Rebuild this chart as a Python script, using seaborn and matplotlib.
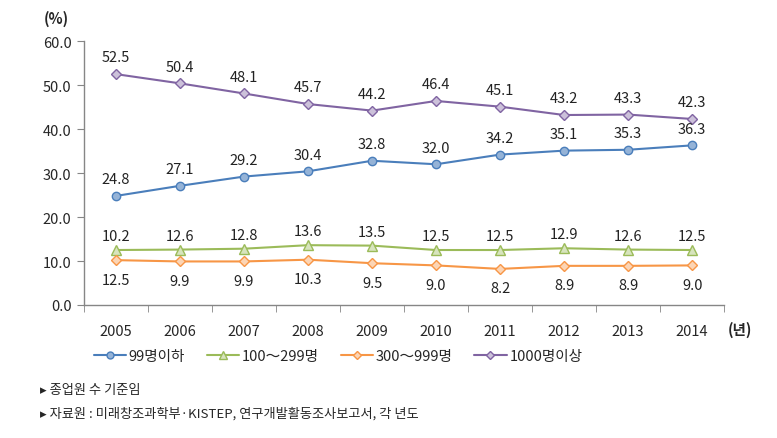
import numpy as np
import pandas as pd
import seaborn as sns
import matplotlib.pyplot as plt
from matplotlib.lines import Line2D

years = ['2005', '2006', '2007', '2008', '2009', '2010', '2011', '2012', '2013', '2014']
s_99 = [24.8, 27.1, 29.2, 30.4, 32.8, 32.0, 34.2, 35.1, 35.3, 36.3]
s_100 = [12.5, 12.6, 12.8, 13.6, 13.5, 12.5, 12.5, 12.9, 12.6, 12.5]
s_300 = [10.2, 9.9, 9.9, 10.3, 9.5, 9.0, 8.2, 8.9, 8.9, 9.0]
s_1000 = [52.5, 50.4, 48.1, 45.7, 44.2, 46.4, 45.1, 43.2, 43.3, 42.3]
# label texts as printed in the source (2005 labels of the two lower series are swapped there)
lab_100 = ['10.2', '12.6', '12.8', '13.6', '13.5', '12.5', '12.5', '12.9', '12.6', '12.5']
lab_300 = ['12.5', '9.9', '9.9', '10.3', '9.5', '9.0', '8.2', '8.9', '8.9', '9.0']
names = ['99명이하', '100～299명', '300～999명', '1000명이상']

sns.set_style('white')
plt.rcParams['font.family'] = ['Noto Sans CJK KR', 'DejaVu Sans']

fig = plt.figure(figsize=(7.77, 4.39), dpi=100)
ax = fig.add_axes([0.108, 0.303, 0.824, 0.601])

x = np.arange(len(years))
series = [
    (s_99, [f'{v:.1f}' for v in s_99], '#4A7EBB', '#95B3D7', 'o', 6, 12),
    (s_100, lab_100, '#9BBB59', '#D7E4BD', '^', 6.5, 10),
    (s_300, lab_300, '#F79646', '#FCD5B5', 'D', 5, -14),
    (s_1000, [f'{v:.1f}' for v in s_1000], '#8064A2', '#CCC1DA', 'D', 5, 12),
]
handles = []
for (vals, labs, c, fc, m, ms, off), nm in zip(series, names):
    sns.lineplot(x=x, y=vals, ax=ax, color=c, lw=1.5, marker=m, markersize=ms,
                 markerfacecolor=fc, markeredgecolor=c, markeredgewidth=1)
    for xi, v, t in zip(x, vals, labs):
        ax.annotate(t, (xi, v), xytext=(0, off), textcoords='offset points',
                    ha='center', va='center', fontsize=10.5, color='#222222')
    handles.append(Line2D([], [], color=c, lw=1.5, marker=m, markersize=ms - 1,
                          markerfacecolor=fc, markeredgecolor=c))

ax.set_xlim(-0.5, len(years) - 0.5)
ax.set_ylim(0, 60)
ax.set_yticks(np.arange(0, 61, 10))
ax.set_yticklabels([f'{v:.1f}' for v in np.arange(0, 61, 10)], fontsize=10.5)
ax.set_xticks(x)
ax.set_xticklabels(years, fontsize=10.5)
ax.set_xticks(np.arange(-0.5, len(years)), minor=True)
ax.tick_params(axis='x', which='major', length=0, pad=14)
ax.tick_params(axis='x', which='minor', length=5, color='#868686', direction='out', bottom=True)
ax.tick_params(axis='y', length=5, color='#868686', direction='out', left=True, pad=4)
for sp in ['top', 'right']:
    ax.spines[sp].set_visible(False)
for sp in ['left', 'bottom']:
    ax.spines[sp].set_color('#868686')
    ax.spines[sp].set_linewidth(1)

fig.text(0.073, 0.958, '(%)', fontsize=10.5, fontweight='bold', ha='center', va='center')
fig.text(0.937, 0.248, '(년)', fontsize=10.5, fontweight='bold', ha='left', va='center')

fig.legend(handles, names, loc='center', bbox_to_anchor=(0.435, 0.187), ncol=4,
           frameon=False, fontsize=10.5, handlelength=2.2, handletextpad=0.2, columnspacing=1.5)

fig.text(0.052, 0.110, '▸ 종업원 수 기준임', fontsize=9.5, ha='left', va='center')
fig.text(0.052, 0.058, '▸ 자료원 : 미래창조과학부·KISTEP, 연구개발활동조사보고서, 각 년도',
         fontsize=9.5, ha='left', va='center')

fig.savefig('out.png', dpi=100)
